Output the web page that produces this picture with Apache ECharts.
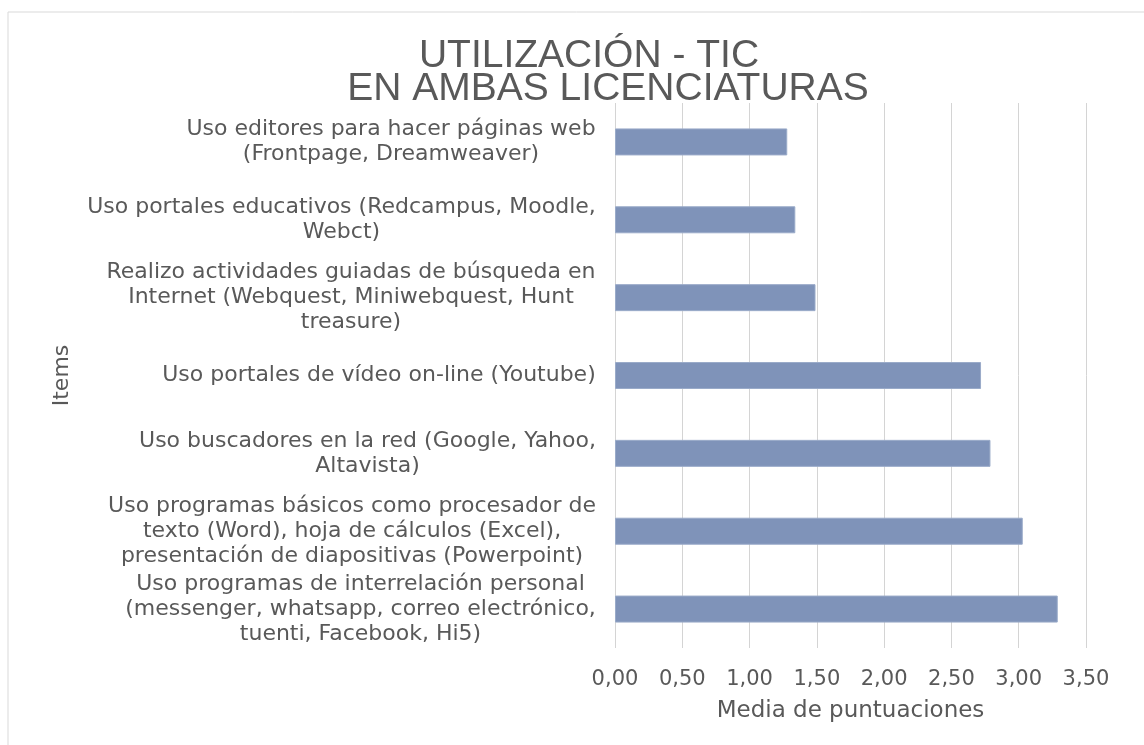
<!DOCTYPE html>
<html>
<head>
<meta charset="utf-8">
<script src="https://cdn.jsdelivr.net/npm/echarts@6/dist/echarts.min.js"></script>
<style>
  html, body { margin: 0; padding: 0; background: #fff; }
  #chart { width: 1144px; height: 745px; }
</style>
</head>
<body>
<div id="chart"></div>
<script>
// datos (de arriba hacia abajo como en el grafico original)
var items = [
  'Uso editores para hacer páginas web\n(Frontpage, Dreamweaver)',
  'Uso portales educativos (Redcampus, Moodle,\nWebct)',
  'Realizo actividades guiadas de búsqueda en\nInternet (Webquest, Miniwebquest, Hunt\ntreasure)',
  'Uso portales de vídeo on-line (Youtube)',
  'Uso buscadores en la red (Google, Yahoo,\nAltavista)',
  'Uso programas básicos como procesador de\ntexto (Word), hoja de cálculos (Excel),\npresentación de diapositivas (Powerpoint)',
  'Uso programas de interrelación personal\n(messenger, whatsapp, correo electrónico,\ntuenti, Facebook, Hi5)'
];
var medias = [1.28, 1.34, 1.49, 2.72, 2.79, 3.03, 3.29];

var xMin = 0;
var xMax = 3.5;
var xStep = 0.5;

var tituloL1 = 'UTILIZACIÓN - TIC';
var tituloL2 = 'EN AMBAS LICENCIATURAS';
var nombreX = 'Media de puntuaciones';
var nombreY = 'Items';

var gris = '#595959';
var fuente = 'DejaVu Sans';

// medir el ancho de la linea mas larga de cada etiqueta, para centrar las lineas
var ctx = document.createElement('canvas').getContext('2d');
ctx.font = '22px ' + fuente;
var rich = {};
items.forEach(function (txt, i) {
  var w = 0;
  txt.split('\n').forEach(function (l) {
    w = Math.max(w, ctx.measureText(l).width);
  });
  rich['w' + i] = {
    width: Math.ceil(w),
    align: 'center',
    fontSize: 22,
    fontFamily: fuente,
    color: gris,
    lineHeight: 25
  };
});

var chart = echarts.init(document.getElementById('chart'));
chart.setOption({
  animation: false,
  backgroundColor: '#fff',
  graphic: [{
    type: 'rect',
    shape: { x: 8, y: 12, width: 1200, height: 800 },
    style: { fill: 'none', stroke: '#d9d9d9', lineWidth: 1 },
    silent: true
  }],
  title: [{
    text: tituloL1,
    left: 584,
    top: 32,
    textAlign: 'center',
    textStyle: { fontFamily: 'Liberation Sans', fontSize: 39, fontWeight: 'normal', color: gris, lineHeight: 39 }
  }, {
    text: tituloL2,
    left: 603,
    top: 65,
    textAlign: 'center',
    textStyle: { fontFamily: 'Liberation Sans', fontSize: 39, fontWeight: 'normal', color: gris, lineHeight: 39 }
  }],
  grid: { left: 615, right: 58, top: 103, bottom: 97 },
  xAxis: {
    type: 'value',
    min: xMin,
    max: xMax,
    interval: xStep,
    name: nombreX,
    nameLocation: 'middle',
    nameGap: 52,
    nameTextStyle: { fontFamily: fuente, fontSize: 23, color: gris },
    axisLine: { show: false },
    axisTick: { show: false },
    axisLabel: {
      margin: 21,
      fontFamily: fuente,
      fontSize: 21,
      color: gris,
      formatter: function (v) { return v.toFixed(2).replace('.', ','); }
    },
    splitLine: { show: true, lineStyle: { color: '#d4d4d4', width: 1 } }
  },
  yAxis: {
    type: 'category',
    data: items,
    inverse: true,
    name: nombreY,
    nameLocation: 'middle',
    nameGap: 542,
    nameRotate: 90,
    nameTextStyle: { fontFamily: fuente, fontSize: 22, color: gris },
    axisLine: { show: false },
    axisTick: { show: false },
    axisLabel: {
      margin: 19,
      interval: 0,
      align: 'right',
      formatter: function (value, idx) {
        return value.split('\n').map(function (l) {
          return '{w' + idx + '|' + l + '}';
        }).join('\n');
      },
      rich: rich
    },
    splitLine: { show: false }
  },
  series: [{
    name: 'Media',
    type: 'bar',
    data: medias,
    barWidth: 27,
    itemStyle: { color: '#7f93b9', borderColor: '#9aabc9', borderWidth: 1 }
  }]
});
</script>
</body>
</html>
